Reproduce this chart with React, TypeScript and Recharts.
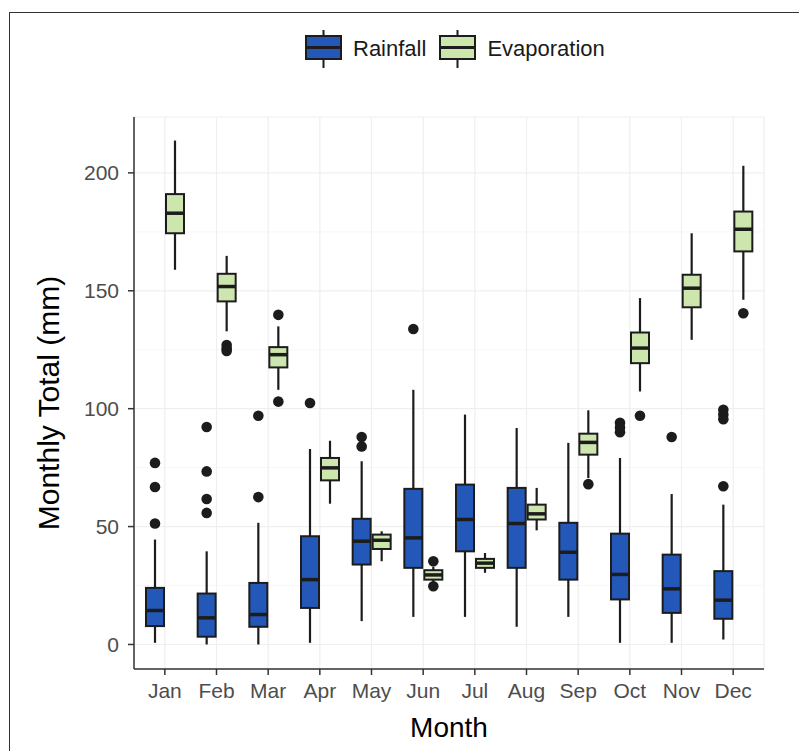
import React from 'react';
import { ComposedChart, Bar, XAxis, YAxis, CartesianGrid } from 'recharts';

const months = ['Jan', 'Feb', 'Mar', 'Apr', 'May', 'Jun', 'Jul', 'Aug', 'Sep', 'Oct', 'Nov', 'Dec'];

// Rainfall box stats (mm)
const rainMin = [0.7, 0, 0, 0.7, 9.9, 11.7, 11.7, 7.5, 11.7, 0.7, 0.7, 2.1];
const rainQ1 = [7.8, 3.3, 7.5, 15.5, 33.9, 32.5, 39.5, 32.5, 27.5, 19.1, 13.4, 10.9];
const rainMed = [14.4, 11.3, 12.7, 27.5, 43.8, 45.2, 53, 51.3, 39.1, 29.7, 23.6, 18.8];
const rainQ3 = [24, 21.6, 26.1, 45.9, 53.3, 66, 67.8, 66.4, 51.6, 47, 38.1, 31.1];
const rainMax = [44.5, 39.5, 51.6, 82.9, 77.7, 108, 97.5, 91.8, 85.5, 79.1, 63.8, 59.3];
const rainOut = [
  [77, 66.8, 51.3], [92.2, 73.4, 61.7, 55.8], [97, 62.5], [102.4], [88, 84], [133.8],
  [], [], [], [94, 92, 90], [88], [99.5, 97.5, 95.5, 67.1],
];

// Evaporation box stats (mm)
const evapMin = [158.9, 132.8, 108, 59.7, 35.3, 26, 30.4, 48.4, 70.6, 107.3, 129.2, 146.2];
const evapQ1 = [174.4, 145.5, 117.5, 69.6, 40.5, 27.5, 32.5, 53, 80.5, 119.3, 143, 166.7];
const evapMed = [182.9, 151.8, 122.9, 74.9, 44.2, 29.5, 34.5, 55.4, 85.7, 125.7, 151.1, 176.1];
const evapQ3 = [191, 157.2, 126.1, 79.1, 46.6, 31.5, 36.3, 59.3, 89.4, 132.3, 156.8, 183.6];
const evapMax = [213.7, 164.8, 134.9, 86.4, 48, 33, 38.8, 66.4, 99.3, 146.9, 174.4, 203];
const evapOut = [
  [], [127, 125.5, 124.5], [139.8, 103], [], [], [35.3, 24.7],
  [], [], [68], [97], [], [140.5],
];

const yTicks = [0, 50, 100, 150, 200];
const minorTicks = [25, 75, 125, 175];

const RAIN_FILL = '#2458b8';
const EVAP_FILL = '#cde6ad';
const LINE = '#1c1c1c';

const data = months.map((m, i) => ({
  month: m,
  rain: [rainMin[i], rainMax[i]],
  rainStats: { min: rainMin[i], q1: rainQ1[i], med: rainMed[i], q3: rainQ3[i], max: rainMax[i], out: rainOut[i] },
  evap: [evapMin[i], evapMax[i]],
  evapStats: { min: evapMin[i], q1: evapQ1[i], med: evapMed[i], q3: evapQ3[i], max: evapMax[i], out: evapOut[i] },
}));

// box + whiskers + outliers, scaled from the bar's own [min, max] extent
const makeBox = (statsKey: string, fill: string) => (props: any) => {
  const { x, y, width, height, payload } = props;
  const s = payload[statsKey];
  const top = Math.min(y, y + height);
  const bottom = Math.max(y, y + height);
  const ppu = (bottom - top) / (s.max - s.min);
  const yOf = (v: number) => bottom - (v - s.min) * ppu;
  const cx = x + width / 2;
  return (
    <g>
      <line x1={cx} x2={cx} y1={yOf(s.max)} y2={yOf(s.q3)} stroke={LINE} strokeWidth={2.2} />
      <line x1={cx} x2={cx} y1={yOf(s.q1)} y2={yOf(s.min)} stroke={LINE} strokeWidth={2.2} />
      <rect x={x + 1} y={yOf(s.q3)} width={width - 2} height={yOf(s.q1) - yOf(s.q3)} fill={fill} stroke={LINE} strokeWidth={2} />
      <line x1={x + 1} x2={x + width - 1} y1={yOf(s.med)} y2={yOf(s.med)} stroke={LINE} strokeWidth={3.5} />
      {s.out.map((v: number, k: number) => (
        <circle key={k} cx={cx} cy={yOf(v)} r={5.3} fill={LINE} />
      ))}
    </g>
  );
};

const LegendKey = ({ fill }: { fill: string }) => (
  <svg width={37} height={40} style={{ display: 'block' }}>
    <line x1={18.5} x2={18.5} y1={1} y2={39} stroke={LINE} strokeWidth={2} />
    <rect x={1} y={7} width={35} height={23} fill={fill} stroke={LINE} strokeWidth={2} />
    <line x1={1} x2={36} y1={18.5} y2={18.5} stroke={LINE} strokeWidth={3} />
  </svg>
);

const App: React.FC = () => {
  return (
    <div style={{ position: 'absolute', left: 0, top: 0, width: 799, height: 751, overflow: 'hidden', background: '#fff', fontFamily: '"Liberation Sans", Arial, sans-serif' }}>
      <div style={{ position: 'absolute', left: 9, top: 12, width: 790, height: 739, borderTop: '1.5px solid #333', borderLeft: '1.5px solid #333', boxSizing: 'border-box' }} />
      <div style={{ position: 'absolute', left: 305, top: 29, display: 'flex', alignItems: 'center', fontSize: 22, color: '#1a1a1a' }}>
        <LegendKey fill={RAIN_FILL} />
        <span style={{ marginLeft: 11, marginRight: 13 }}>Rainfall</span>
        <LegendKey fill={EVAP_FILL} />
        <span style={{ marginLeft: 11 }}>Evaporation</span>
      </div>
      <div style={{ position: 'absolute', left: 0, top: 0 }}>
        <ComposedChart
          width={799}
          height={751}
          data={data}
          margin={{ top: 117, right: 35, bottom: 0, left: 0 }}
          barGap={0}
          barSize={20}
        >
          <CartesianGrid vertical={false} horizontalValues={minorTicks} stroke="#f5f5f5" strokeWidth={0.8} />
          <CartesianGrid stroke="#efefef" strokeWidth={1.2} />
          <XAxis
            dataKey="month"
            height={82}
            padding={{ left: 5, right: 5 }}
            axisLine={{ stroke: '#333', strokeWidth: 1.5 }}
            tickLine={{ stroke: '#333', strokeWidth: 1.5 }}
            tickSize={6}
            tickMargin={8}
            tick={{ fill: '#4d4d4d', fontSize: 21 }}
            interval={0}
            label={({ viewBox }: any) => (
              <text x={viewBox.x + viewBox.width / 2} y={viewBox.y + 68} textAnchor="middle" fontSize={28} fill="#000">
                Month
              </text>
            )}
          />
          <XAxis xAxisId="top" dataKey="month" orientation="top" height={0} tick={false} tickLine={false} axisLine={{ stroke: '#333', strokeWidth: 1.5 }} />
          <YAxis
            width={134}
            domain={[-10.4, 223.7]}
            ticks={yTicks}
            allowDataOverflow
            axisLine={{ stroke: '#333', strokeWidth: 1.5 }}
            tickLine={{ stroke: '#333', strokeWidth: 1.5 }}
            tickSize={6}
            tickMargin={9}
            tick={{ fill: '#4d4d4d', fontSize: 21 }}
            label={({ viewBox }: any) => {
              const lx = viewBox.x + 59;
              const ly = viewBox.y + viewBox.height / 2 + 10;
              return (
                <text x={lx} y={ly} textAnchor="middle" fontSize={30} fill="#000" transform={`rotate(-90, ${lx}, ${ly})`}>
                  Monthly Total (mm)
                </text>
              );
            }}
          />
          <YAxis yAxisId="right" orientation="right" width={0} domain={[-10.4, 223.7]} tick={false} tickLine={false} axisLine={{ stroke: '#333', strokeWidth: 1.5 }} />
          <Bar dataKey="rain" name="Rainfall" fill={RAIN_FILL} shape={makeBox('rainStats', RAIN_FILL)} isAnimationActive={false} />
          <Bar dataKey="evap" name="Evaporation" fill={EVAP_FILL} shape={makeBox('evapStats', EVAP_FILL)} isAnimationActive={false} />
        </ComposedChart>
      </div>
    </div>
  );
};

export default App;
